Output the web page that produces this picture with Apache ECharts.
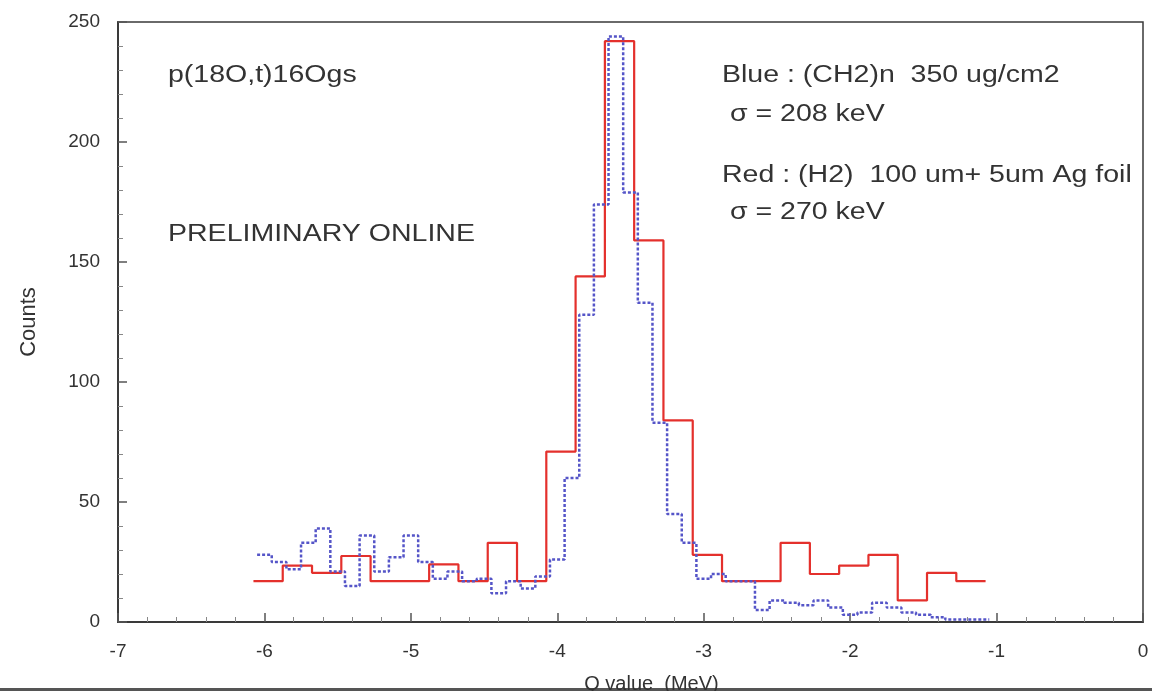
<!DOCTYPE html>
<html>
<head>
<meta charset="utf-8">
<script src="https://cdn.jsdelivr.net/npm/echarts@6/dist/echarts.min.js"></script>
<style>
html,body{margin:0;padding:0;background:#fff}
#chart{width:1152px;height:691px}
</style>
</head>
<body>
<div id="chart"></div>
<script>
// red histogram: (H2) target, 0.2 MeV bins
var redStart = -6.075;
var redWidth = 0.2;
var redCounts = [17, 23.5, 20.5, 27.5, 17, 17, 24, 17, 33, 17,
	71, 144, 242, 159, 84, 28, 17, 17, 33, 20,
	23.5, 28, 9, 20.5, 17];

// blue histogram: (CH2)n target, 0.1 MeV bins
var blueStart = -6.05;
var blueWidth = 0.1;
var blueCounts = [28, 25, 22, 33, 39, 21, 15, 36, 21, 27,
	36, 25, 18, 21, 17, 18, 12, 17, 14, 19,
	26, 60, 128, 174, 244, 179, 133, 83, 45, 33,
	18, 20, 17, 17, 5, 9, 8, 7, 9, 6,
	3, 4, 8, 6, 4, 3, 2, 1, 1, 1];

var xRange = [-7, 0];
var yRange = [0, 250];

var notes = [
	{text: 'p(18O,t)16Ogs', x: 168, y: 64},
	{text: 'PRELIMINARY ONLINE', x: 168, y: 223},
	{text: 'Blue : (CH2)n  350 ug/cm2', x: 722, y: 64},
	{text: '\u03c3 = 208 keV', x: 730, y: 103},
	{text: 'Red : (H2)  100 um+ 5um Ag foil', x: 722, y: 164},
	{text: '\u03c3 = 270 keV', x: 730, y: 201}
];

function steps(start, width, counts) {
	var pts = [];
	for (var i = 0; i < counts.length; i++) {
		pts.push([start + i * width, counts[i]]);
	}
	pts.push([start + counts.length * width, counts[counts.length - 1]]);
	return pts;
}

var font = 'Liberation Sans, Arial, sans-serif';
var myChart = echarts.init(document.getElementById('chart'));

var option = {
	backgroundColor: '#fff',
	animation: false,
	grid: {
		left: 118, right: 9, top: 22, bottom: 69,
		outerBoundsMode: 'none',
		show: true,
		borderColor: '#3a3a3a',
		borderWidth: 1.5
	},
	xAxis: {
		type: 'value',
		min: xRange[0], max: xRange[1], interval: 1,
		name: 'Q value  (MeV)',
		nameLocation: 'middle',
		nameGap: 52,
		nameTextStyle: {fontFamily: font, fontSize: 20, color: '#333', padding: [0, 0, 0, 42]},
		axisLine: {onZero: false, lineStyle: {color: '#3a3a3a', width: 2}},
		axisTick: {inside: true, length: 9, lineStyle: {color: '#555', width: 1.5}},
		minorTick: {show: true, splitNumber: 5, length: 5, lineStyle: {color: '#888'}},
		axisLabel: {fontFamily: font, fontSize: 19, color: '#333', margin: 20},
		splitLine: {show: false}
	},
	yAxis: {
		type: 'value',
		min: yRange[0], max: yRange[1], interval: 50,
		name: 'Counts',
		nameLocation: 'middle',
		nameGap: 78,
		nameTextStyle: {fontFamily: font, fontSize: 22, color: '#333'},
		axisLine: {onZero: false, lineStyle: {color: '#3a3a3a', width: 2}},
		axisTick: {inside: true, length: 9, lineStyle: {color: '#555', width: 1.5}},
		minorTick: {show: true, splitNumber: 5, length: 5, lineStyle: {color: '#888'}},
		axisLabel: {fontFamily: font, fontSize: 19, color: '#333', margin: 18},
		splitLine: {show: false}
	},
	graphic: notes.map(function (n) {
		return {
			type: 'text', left: n.x, top: n.y, scaleX: 1.24,
			style: {text: n.text, font: '23px ' + font, fill: '#333'}
		};
	}).concat([{
		type: 'rect', left: 0, top: 688,
		shape: {width: 1152, height: 3},
		style: {fill: '#555'}
	}]),
	series: [
		{
			name: 'Red',
			type: 'line',
			step: 'end',
			showSymbol: false,
			data: steps(redStart, redWidth, redCounts),
			lineStyle: {color: '#e4302c', width: 2.2}
		},
		{
			name: 'Blue',
			type: 'line',
			step: 'end',
			showSymbol: false,
			data: steps(blueStart, blueWidth, blueCounts),
			lineStyle: {color: '#5555c8', width: 2.5, type: [3, 2]}
		}
	]
};
myChart.setOption(option);
</script>
</body>
</html>
